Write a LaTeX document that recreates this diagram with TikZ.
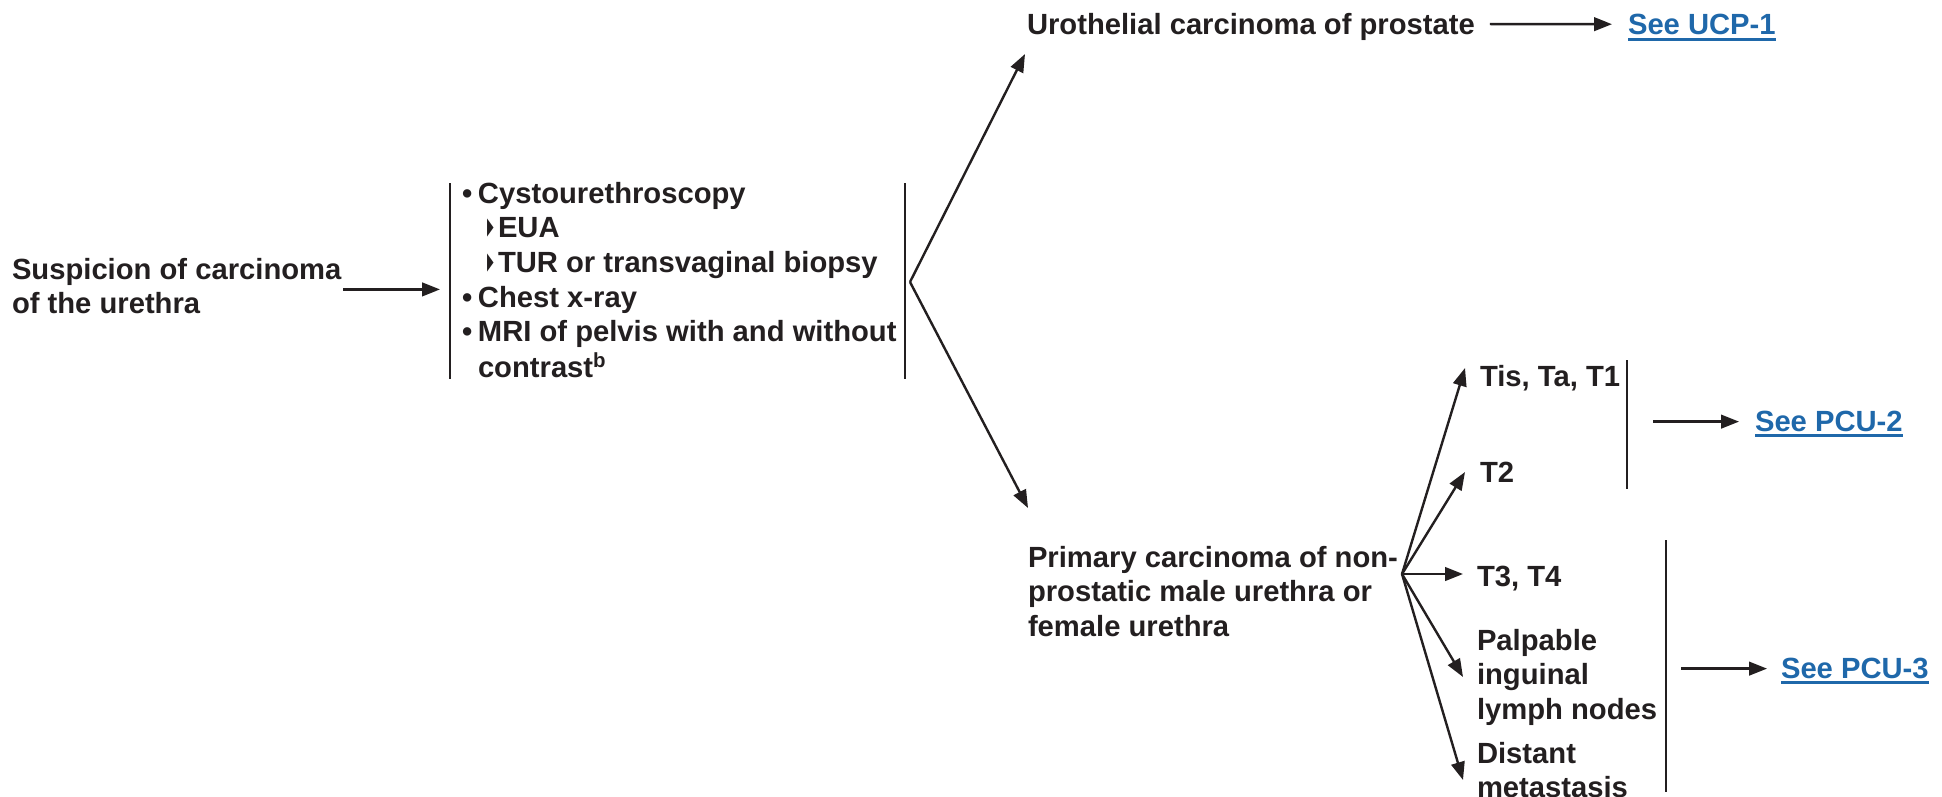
\documentclass[tikz,border=0pt]{standalone}
\usepackage{fontspec}
\setmainfont{Liberation Sans}
\newfontfamily\dejavu{DejaVu Sans}
\usetikzlibrary{arrows.meta}
\definecolor{ink}{HTML}{231F20}
\definecolor{linkc}{HTML}{1F68AA}
\newcommand{\mlines}[1]{\begin{tabular}[t]{@{}l@{}}#1\end{tabular}}
\newcommand{\bul}{\makebox[8pt][l]{•}}
\newcommand{\subm}{\hspace*{12.6pt}\makebox[5.4pt][l]{\raisebox{0pt}{\scalebox{0.45}[1.25]{\dejavu ▸}}}}
\newcommand{\ulink}[1]{\setbox0\hbox{#1}\rlap{\rule[-2.8pt]{\wd0}{1.1pt}}\box0}
\tikzset{
  txt/.style={anchor=base west, inner sep=0pt, outer sep=0pt, text=ink,
    font=\fontsize{14.6}{17.35}\selectfont\bfseries},
  lnk/.style={txt, text=linkc},
  arr/.style={draw=ink, line width=1.2pt, -{Triangle[length=9pt,width=6.8pt]}},
  bar/.style={draw=ink, line width=1.2pt},
}
\begin{document}
\begin{tikzpicture}[x=0.5pt,y=-0.5pt]
\fill[white] (0,0) rectangle (1942,797);
\useasboundingbox (0,0) rectangle (1942,797);

% texts
\node[txt] (susp) at (12,279) {\mlines{Suspicion of carcinoma\\of the urethra}};
\node[txt] (list) at (462,203) {\mlines{\bul Cystourethroscopy\\
\subm EUA\\
\subm TUR or transvaginal biopsy\\
\bul Chest x-ray\\
\bul MRI of pelvis with and without\\
\hspace*{8pt}contrast\textsuperscript{b}}};
\node[txt] (uro) at (1027,35) {Urothelial carcinoma of prostate};
\node[lnk] (ucp) at (1628,35) {\ulink{See UCP-1}};
\node[txt] (prim) at (1028,567) {\mlines{Primary carcinoma of non-\\prostatic male urethra or\\female urethra}};
\node[txt] (tis) at (1480,386) {Tis, Ta, T1};
\node[txt] (tt2) at (1480,482) {T2};
\node[txt] (tt3) at (1477,586) {T3, T4};
\node[txt] (palp) at (1477,650) {\mlines{Palpable\\inguinal\\lymph nodes}};
\node[txt] (dist) at (1477,763) {\mlines{Distant\\metastasis}};
\node[lnk] (pcu2) at (1755,431) {\ulink{See PCU-2}};
\node[lnk] (pcu3) at (1781,678) {\ulink{See PCU-3}};

% brackets
\coordinate (lbT) at (450,183);
\coordinate (lbB) at (450,379);
\coordinate (rbT) at (905,183);
\coordinate (rbB) at (905,379);
\coordinate (b2T) at (1627,360);
\coordinate (b2B) at (1627,489);
\coordinate (b3T) at (1666,540);
\coordinate (b3B) at (1666,792);
\draw[bar] (lbT) -- (lbB);
\draw[bar] (rbT) -- (rbB);
\draw[bar] (b2T) -- (b2B);
\draw[bar] (b3T) -- (b3B);

% fork points and tips
\coordinate (fA) at (910,282);
\coordinate (tUro) at (1025,54);
\coordinate (tPrim) at (1028,508);
\coordinate (fB) at (1402,574);
\coordinate (tTis) at (1465,368);
\coordinate (tT2) at (1465,472);
\coordinate (tT3) at (1463,574);
\coordinate (tPalp) at (1463,677);
\coordinate (tDist) at (1463,780);

% connectors
\draw[arr] ([xshift=1pt]susp.east) -- ([xshift=-5pt]susp.east -| lbT);
\draw[arr] (fA) -- (tUro);
\draw[arr] (fA) -- (tPrim);
\draw[arr] ([xshift=7.5pt,yshift=1.7pt]uro.east) -- ([xshift=-8pt,yshift=1.7pt]ucp.west);
\draw[arr] (fB) -- (tTis);
\draw[arr] (fB) -- (tT2);
\draw[arr] (fB) -- (tT3);
\draw[arr] (fB) -- (tPalp);
\draw[arr] (fB) -- (tDist);
\draw[arr] ([xshift=13pt,yshift=1pt]b2T |- pcu2.west) -- ([xshift=-8pt,yshift=1pt]pcu2.west);
\draw[arr] ([xshift=7.5pt,yshift=1pt]b3T |- pcu3.west) -- ([xshift=-7pt,yshift=1pt]pcu3.west);
\end{tikzpicture}
\end{document}
